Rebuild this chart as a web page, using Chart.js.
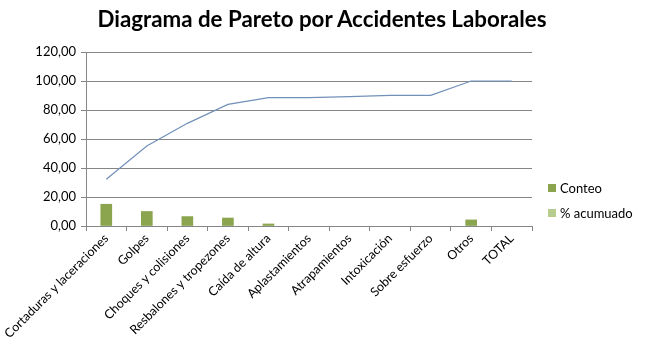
<!DOCTYPE html>
<html>
<head>
<meta charset="utf-8">
<script src="https://cdn.jsdelivr.net/npm/chart.js@4.4.0/dist/chart.umd.min.js"></script>
<style>
  html, body { margin: 0; padding: 0; background: #fff; }
  #wrap { position: relative; width: 648px; height: 362px; }
  #titulo { position: absolute; left: 0; width: 644px; top: 5px; text-align: center; font-family: Lato, sans-serif; font-weight: bold; font-size: 22.3px; color: #000; }
  #legend { position: absolute; left: 548px; top: 175px; font-family: Lato, sans-serif; font-size: 13px; color: #000; }
  #legend div { height: 25px; display: flex; align-items: center; }
  #legend span.box { display: inline-block; width: 8px; height: 8px; margin-right: 4px; }
</style>
</head>
<body>
<div id="wrap">
  <canvas id="pareto" width="648" height="362"></canvas>
  <div id="titulo">Diagrama de Pareto por Accidentes Laborales</div>
  <div id="legend">
    <div><span class="box" style="background:#8aa54e"></span>Conteo</div>
    <div><span class="box" style="background:#b6cd8f"></span>% acumuado</div>
  </div>
</div>
<script>
// datos
const categorias = ['Cortaduras y laceraciones', 'Golpes', 'Choques y colisiones', 'Resbalones y tropezones',
    'Caída de altura', 'Aplastamientos', 'Atrapamientos', 'Intoxicación', 'Sobre esfuerzo', 'Otros', 'TOTAL'];
const conteo = [15, 10, 6.5, 5.5, 1.4, 0, 0, 0, 0, 4.2, 0];
const acumulado = [32.2, 55.2, 70.8, 83.9, 88.5, 88.5, 89.2, 90.1, 90.1, 100, 100];
const ticksY = [0, 20, 40, 60, 80, 100, 120];

const fmt = v => v.toFixed(2).replace('.', ',');

new Chart(document.getElementById('pareto').getContext('2d'), {
    type: 'bar',
    data: {
        labels: categorias,
        datasets: [
            {
                type: 'line',
                label: '% acumuado',
                data: acumulado,
                borderColor: '#7191b9',
                borderWidth: 1.2,
                pointRadius: 0,
                tension: 0,
                fill: false
            },
            {
                label: 'Conteo',
                // los ceros no se dibujan
                data: conteo.map(v => v || null),
                backgroundColor: '#8aa54e',
                barThickness: 11
            }
        ]
    },
    options: {
        responsive: false,
        animation: false,
        layout: { padding: { left: 0, right: 116, top: 52, bottom: 0 } },
        plugins: {
            legend: { display: false },
            tooltip: { enabled: false }
        },
        scales: {
            x: {
                offset: true,
                grid: { drawOnChartArea: false, offset: true, color: '#868686', tickLength: 5 },
                border: { color: '#868686' },
                ticks: {
                    color: '#000',
                    font: { family: 'Lato', size: 12.5 },
                    maxRotation: 45,
                    minRotation: 45,
                    autoSkip: false,
                    padding: 0
                },
                afterFit: axis => { axis.height = 136; }
            },
            y: {
                min: 0,
                max: 120,
                afterBuildTicks: axis => { axis.ticks = ticksY.map(v => ({ value: v })); },
                grid: { color: '#868686', tickLength: 5 },
                border: { color: '#868686' },
                ticks: {
                    color: '#000',
                    font: { family: 'Lato', size: 13 },
                    padding: 5,
                    callback: v => fmt(v)
                },
                afterFit: axis => { axis.width = 86; }
            }
        }
    }
});
</script>
</body>
</html>
